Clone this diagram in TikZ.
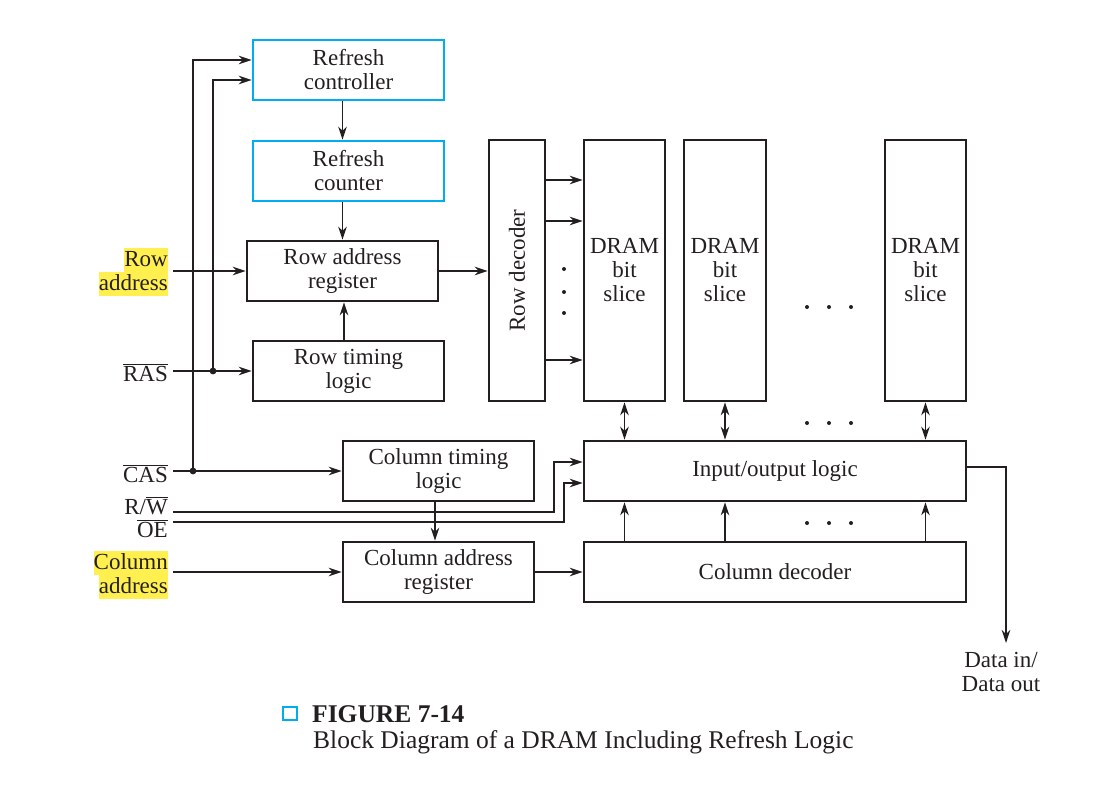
\documentclass[tikz,border=0pt]{standalone}
\usepackage{fontspec}
\setmainfont{Liberation Serif}
\usetikzlibrary{arrows.meta}
\definecolor{refblue}{RGB}{0,174,239}
\definecolor{hly}{RGB}{255,240,80}
\definecolor{ink}{RGB}{35,31,32}
\newcommand\ovl[1]{$\overline{\mbox{#1}}$}
\newcommand\hlt[1]{{\setlength{\fboxsep}{0pt}\colorbox{hly}{\rule[-6pt]{0pt}{24pt}#1}}}
\begin{document}
\begin{tikzpicture}[x=1pt,y=-1pt,
  every node/.style={font=\fontsize{23}{24}\selectfont, text=ink},
  blk/.style={draw=ink, line width=2.6pt, rectangle, inner sep=0pt, align=center},
  rblk/.style={blk, draw=refblue},
  lbl/.style={anchor=east, inner sep=0pt, align=right},
  wire/.style={draw=ink, line width=1.4pt},
  tip/.style={},
  arr/.style={wire, -{Stealth[length=13pt,width=8.5pt,inset=4pt]}},
  darr/.style={wire, {Stealth[length=13pt,width=8.5pt,inset=4pt]}-{Stealth[length=13pt,width=8.5pt,inset=4pt]}},
  jdot/.style={fill=ink},
]
\useasboundingbox (0,0) rectangle (1099,796);

% blocks
\node[rblk, minimum width=191pt, minimum height=60pt] (rc)   at (348.5,70)  {Refresh\\controller};
\node[rblk, minimum width=191pt, minimum height=60pt] (rcnt) at (348.5,171) {Refresh\\counter};
\node[blk,  minimum width=191pt, minimum height=60pt] (rar)  at (342.5,271) {Row address\\register};
\node[blk,  minimum width=191pt, minimum height=60pt] (rtl)  at (348.5,371) {Row timing\\logic};
\node[blk,  minimum width=191pt, minimum height=60pt] (ctl)  at (438.5,471) {Column timing\\logic};
\node[blk,  minimum width=191pt, minimum height=60pt] (car)  at (438.5,572) {Column address\\register};
\node[blk,  minimum width=56pt, minimum height=261pt] (rd)   at (517,270.5) {};
\node[rotate=90, inner sep=0pt] (rdt) at (rd.center) {Row decoder};
\node[blk,  minimum width=81pt, minimum height=261pt] (s1)   at (624.5,270.5) {DRAM\\bit\\slice};
\node[blk,  minimum width=82pt, minimum height=261pt] (s2)   at (725,270.5)   {DRAM\\bit\\slice};
\node[blk,  minimum width=81pt, minimum height=261pt] (s3)   at (925.5,270.5) {DRAM\\bit\\slice};
\node[blk,  minimum width=382pt, minimum height=60pt] (io)   at (775,471) {Input/output logic};
\node[blk,  minimum width=382pt, minimum height=60pt] (cd)   at (775,572) {Column decoder};

% input labels
\node[lbl] (lra)  at (168,272) {\hlt{Row}\\\hlt{address}};
\node[lbl, anchor=base east] (lras) at (168,381) {\ovl{RAS}};
\node[lbl, anchor=base east] (lcas) at (168,482) {\ovl{CAS}};
\node[lbl, anchor=base east] (lrw)  at (168,514) {R/\ovl{W}};
\node[lbl, anchor=base east] (loe)  at (168,537) {\ovl{OE}};
\node[lbl] (lca)  at (168,575) {\hlt{Column}\\\hlt{address}};
\node[inner sep=0pt, anchor=north, align=center] (ldata) at (1001,652) {Data in/\\Data out};

% wire start points
\coordinate (rain)  at (173,271);
\coordinate (rasin) at (173,371);
\coordinate (casin) at (173,471);
\coordinate (rwin)  at (173,512);
\coordinate (oein)  at (173,522);
\coordinate (cain)  at (173,572);
\coordinate (jras)  at (213,371);
\coordinate (jcas)  at (193,471);
\coordinate (dout)  at (1006,643);

% refresh chain
\draw[arr] (rc.south -| rar) -- (rcnt.north -| rar);
\draw[arr] (rcnt.south -| rar) -- (rar.north);
\draw[arr] ([xshift=1.5pt]rtl.north -| rar) -- ([xshift=1.5pt]rar.south);

% inputs
\draw[arr] (rain) -- (rar.west);
\draw[arr] (rasin) -- (rtl.west);
\draw[arr] (casin) -- (ctl.west);
\draw[arr] (cain) -- (car.west);
\draw[arr] (jras) |- ([yshift=-10pt]rc.west);
\draw[arr] (jcas) |- ([yshift=10pt]rc.west);
\fill[jdot] (jras) circle (3.4pt);
\fill[jdot] (jcas) circle (3.4pt);
\draw[arr] (rwin) -- (554,512) |- ([yshift=9pt]io.west);
\draw[arr] (oein) -- (564,522) |- ([yshift=-12pt]io.west);

% column path
\draw[arr] ([xshift=-3.5pt]ctl.south) -- ([xshift=-3.5pt]car.north);
\draw[arr] (car.east) -- (cd.west);

% row path
\draw[arr] (rar.east) -- (rar.east -| rd.west);
\draw[arr] ([yshift=90.5pt]rd.east) -- ([yshift=90.5pt]s1.west);
\draw[arr] ([yshift=49.5pt]rd.east) -- ([yshift=49.5pt]s1.west);
\draw[arr] ([yshift=-89.5pt]rd.east) -- ([yshift=-89.5pt]s1.west);
\foreach \yy in {269,292,313} \fill[jdot] (564,\yy) circle (2pt);

% slices to io
\draw[darr] (s1.south) -- (s1.south |- io.north);
\draw[darr] (s2.south) -- (s2.south |- io.north);
\draw[darr] (s3.south) -- (s3.south |- io.north);
\draw[arr] (s1 |- cd.north) -- (s1 |- io.south);
\draw[arr] (s2 |- cd.north) -- (s2 |- io.south);
\draw[arr] (s3 |- cd.north) -- (s3 |- io.south);
\foreach \yy in {307,423,523} \foreach \xx in {807,829,851} \fill[jdot] (\xx,\yy) circle (2pt);

% data out
\draw[arr] ([yshift=4pt]io.east) -| (dout);

% caption
\draw[refblue, line width=2.2pt] (283,707) rectangle (297,720);
\node[anchor=base west, inner sep=0pt, font=\fontsize{25.5}{27}\selectfont\bfseries] (cap1) at (312,722) {FIGURE 7-14};
\node[anchor=base west, inner sep=0pt, font=\fontsize{25.5}{27}\selectfont] (cap2) at (313,748) {Block Diagram of a DRAM Including Refresh Logic};
\end{tikzpicture}
\end{document}
